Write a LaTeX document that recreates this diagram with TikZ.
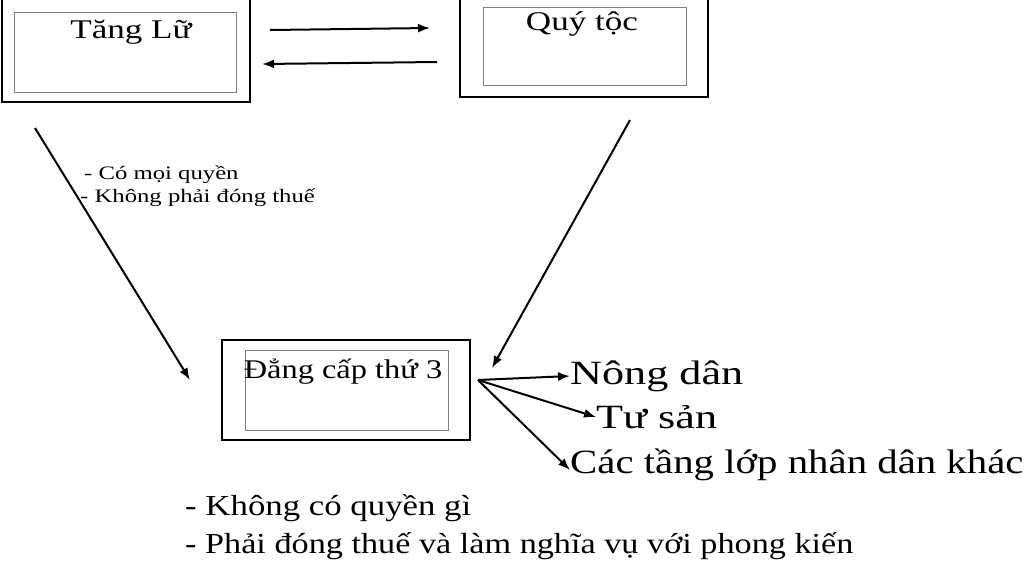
\documentclass[tikz,border=0pt]{standalone}
\usepackage{fontspec}
\usetikzlibrary{arrows.meta}
\setmainfont{Liberation Serif}
\newcommand{\wide}[2]{\scalebox{#1}[1]{#2}}
\begin{document}
\begin{tikzpicture}[x=1pt,y=-1pt,
  outer/.style={draw,line width=2.5pt},
  inner/.style={draw,gray,line width=1pt},
  arr/.style={-{Latex[length=12pt,width=9pt]},line width=2pt},
  lbl/.style={anchor=west,inner sep=0pt,font=\fontsize{34}{38}\selectfont},
  boxt/.style={font=\fontsize{27}{30}\selectfont}]
\useasboundingbox (0,0) rectangle (1024,566);
\draw[outer] (2,-2) rectangle (250,102);
\draw[inner] (14,12) rectangle (236,92);
\node[boxt] (t) at (131,32) {\wide{1.3}{Tăng Lữ}};
\draw[outer] (460,-2) rectangle (708,97);
\draw[inner] (483,7) rectangle (686,85);
\node[boxt] (q) at (582,24) {\wide{1.3}{Quý tộc}};
\draw[outer] (222,340) rectangle (470,440);
\draw[inner] (245,350) rectangle (448,430);
\node[boxt] (d) at (343,372) {\wide{1.2}{Đẳng cấp thứ 3}};
\coordinate (a1) at (270,30); \coordinate (a2) at (430,28);
\coordinate (b1) at (437,62); \coordinate (b2) at (262,64);
\draw[arr] (a1) -- (a2);
\draw[arr] (b1) -- (b2);
\coordinate (c1) at (35,128); \coordinate (c2) at (190,380);
\coordinate (e1) at (630,120); \coordinate (e2) at (492,368);
\draw[arr] (c1) -- (c2);
\draw[arr] (e1) -- (e2);
\node[anchor=west,inner sep=0pt,font=\fontsize{19}{22}\selectfont] (l1) at (84,175) {\wide{1.3}{- Có mọi quyền}};
\node[anchor=west,inner sep=0pt,font=\fontsize{19}{22}\selectfont] (l2) at (80,198) {\wide{1.3}{- Không phải đóng thuế}};
\coordinate (o) at (478,380);
\node[lbl] (n) at (570,376) {\wide{1.3}{Nông dân}};
\node[lbl] (s) at (596,417) {\wide{1.3}{Tư sản}};
\node[lbl] (k) at (570,465) {\wide{1.2}{Các tầng lớp nhân dân khác}};
\draw[arr] (o) -- (n.west);
\draw[arr] (o) -- (s.west);
\draw[arr] (o) -- ([yshift=-5pt]k.west);
\node[anchor=west,inner sep=0pt,font=\fontsize{29}{32}\selectfont] (m1) at (185,508) {\wide{1.2}{- Không có quyền gì}};
\node[anchor=west,inner sep=0pt,font=\fontsize{29}{32}\selectfont] (m2) at (185,546) {\wide{1.18}{- Phải đóng thuế và làm nghĩa vụ với phong kiến}};
\end{tikzpicture}
\end{document}
